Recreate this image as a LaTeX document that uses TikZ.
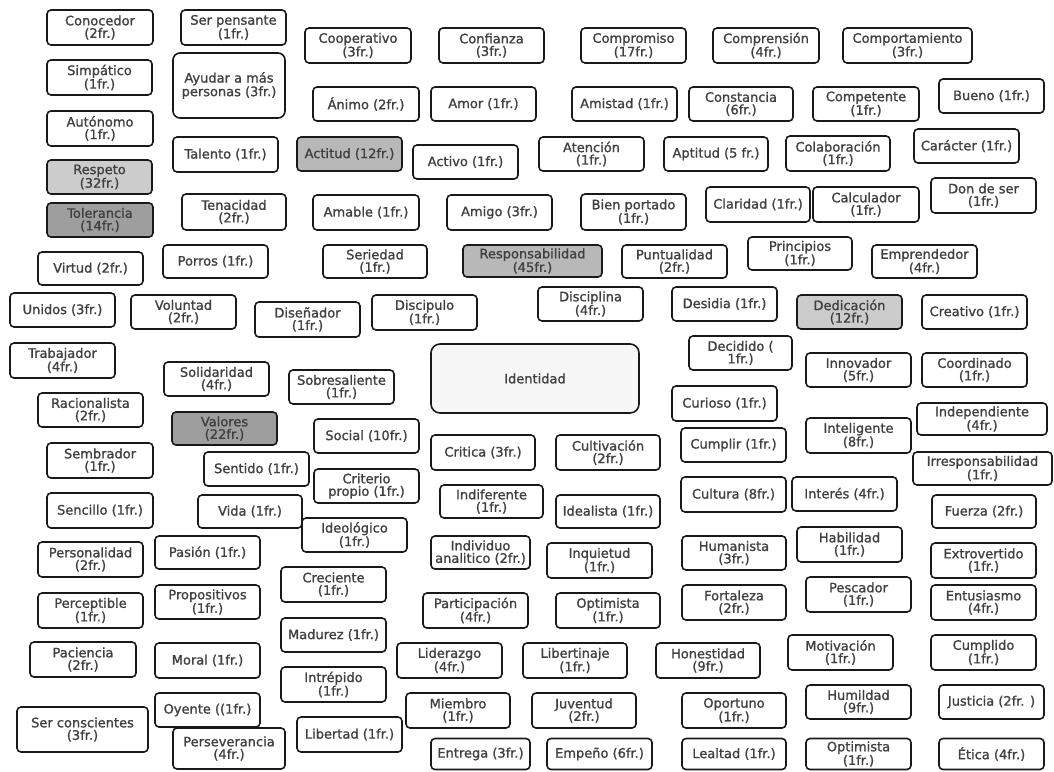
\documentclass[tikz,border=0pt]{standalone}
\usepackage{fontspec}
\setmainfont{DejaVu Sans}[BoldFont={DejaVu Sans}, BoldFeatures={FakeBold=1.2}]
\usepackage{tikz}
\usetikzlibrary{positioning}
\usepackage{xcolor}

\begin{document}
\begin{tikzpicture}[
  x=1pt, y=-1pt,
  box/.style={draw=black!90, line width=1.6pt, rounded corners=4pt, align=center, inner sep=1pt,
    fill=white, text=black!75, font=\fontsize{13}{12.5}\selectfont\bfseries},
  sz/.style 2 args={minimum width=#1pt, minimum height=#2pt},
  hi/.style={box, fill=black!20},
  mid/.style={box, fill=black!28},
  dark/.style={box, fill=black!38},
]
\useasboundingbox[fill=white] (0,0) rectangle (1054,771);
% fila 1
\node[box, sz={106}{35}] (conocedor) at (100,27.5) {Conocedor\\(2fr.)};
\node[box, sz={105}{35}] (serpensante) at (233.5,27.5) {Ser pensante\\(1fr.)};
\node[box, sz={106}{35}] (cooperativo) at (358,45.5) {Cooperativo\\(3fr.)};
\node[box, sz={105}{35}] (confianza) at (491.5,45.5) {Confianza\\(3fr.)};
\node[box, sz={105}{35}] (compromiso) at (633.5,45.5) {Compromiso\\(17fr.)};
\node[box, sz={106}{35}] (comprension) at (766,45.5) {Comprensión\\(4fr.)};
\node[box, sz={129}{35}] (comportamiento) at (907.5,45.5) {Comportamiento\\(3fr.)};
% fila 2
\node[box, sz={105}{35}] (simpatico) at (99.5,77.5) {Simpático\\(1fr.)};
\node[box, sz={112}{65}, rounded corners=7pt] (ayudar) at (229,85.5) {Ayudar a más\\personas (3fr.)};
\node[box, sz={106}{34}] (animo) at (366,104) {Ánimo (2fr.)};
\node[box, sz={105}{34}] (amor) at (483.5,104) {Amor (1fr.)};
\node[box, sz={105}{34}] (amistad) at (624.5,104) {Amistad (1fr.)};
\node[box, sz={104}{34}] (constancia) at (741,104) {Constancia\\(6fr.)};
\node[box, sz={106}{34}] (competente) at (866,104) {Competente\\(1fr.)};
\node[box, sz={105}{34}] (bueno) at (991.5,96) {Bueno (1fr.)};
% fila 3
\node[box, sz={106}{35}] (autonomo) at (100,128.5) {Autónomo\\(1fr.)};
\node[box, sz={105}{35}] (talento) at (225.5,154.5) {Talento (1fr.)};
\node[mid, sz={105}{34}] (actitud) at (349.5,154) {Actitud (12fr.)};
\node[box, sz={105}{34}] (activo) at (465.5,162) {Activo (1fr.)};
\node[box, sz={105}{34}] (atencion) at (591.5,154) {Atención\\(1fr.)};
\node[box, sz={104}{34}] (aptitud) at (716,154) {Aptitud (5 fr.)};
\node[box, sz={104}{35}] (colaboracion) at (838,153.5) {Colaboración\\(1fr.)};
\node[box, sz={105}{34}] (caracter) at (966.5,146) {Carácter (1fr.)};
% fila 4
\node[hi, sz={105}{34}] (respeto) at (99.5,177) {Respeto\\(32fr.)};
\node[dark, sz={106}{34}] (tolerancia) at (100,220) {Tolerancia\\(14fr.)};
\node[box, sz={104}{36}] (tenacidad) at (234,212) {Tenacidad\\(2fr.)};
\node[box, sz={106}{35}] (amable) at (366,212.5) {Amable (1fr.)};
\node[box, sz={105}{35}] (amigo) at (499.5,212.5) {Amigo (3fr.)};
\node[box, sz={105}{36}] (bienportado) at (633.5,212) {Bien portado\\(1fr.)};
\node[box, sz={104}{35}] (claridad) at (758,204.5) {Claridad (1fr.)};
\node[box, sz={106}{35}] (calculador) at (866,204.5) {Calculador\\(1fr.)};
\node[box, sz={105}{35}] (dondeser) at (983.5,195.5) {Don de ser\\(1fr.)};
% fila 5
\node[box, sz={105}{33}] (virtud) at (90.5,268.5) {Virtud (2fr.)};
\node[box, sz={105}{33}] (porros) at (215.5,261.5) {Porros (1fr.)};
\node[box, sz={104}{33}] (seriedad) at (375,261.5) {Seriedad\\(1fr.)};
\node[mid, sz={139}{32}] (responsabilidad) at (532.5,261) {Responsabilidad\\(45fr.)};
\node[box, sz={105}{33}] (puntualidad) at (674.5,261.5) {Puntualidad\\(2fr.)};
\node[box, sz={104}{33}] (principios) at (800,253.5) {Principios\\(1fr.)};
\node[box, sz={105}{33}] (emprendedor) at (924.5,261.5) {Emprendedor\\(4fr.)};
% fila 6
\node[box, sz={105}{34}] (unidos) at (62.5,310) {Unidos (3fr.)};
\node[box, sz={105}{34}] (voluntad) at (183.5,312) {Voluntad\\(2fr.)};
\node[box, sz={105}{35}] (disenador) at (307.5,319.5) {Diseñador\\(1fr.)};
\node[box, sz={105}{35}] (discipulo) at (424.5,312.5) {Discipulo\\(1fr.)};
\node[box, sz={105}{34}] (disciplina) at (590.5,304) {Disciplina\\(4fr.)};
\node[box, sz={105}{34}] (desidia) at (724.5,304) {Desidia (1fr.)};
\node[hi, sz={105}{34}] (dedicacion) at (849.5,312) {Dedicación\\(12fr.)};
\node[box, sz={105}{34}] (creativo) at (974.5,312) {Creativo (1fr.)};
% fila 7
\node[box, sz={105}{35}] (trabajador) at (62.5,360.5) {Trabajador\\(4fr.)};
\node[box, sz={105}{34}] (solidaridad) at (216.5,379) {Solidaridad\\(4fr.)};
\node[box, sz={105}{34}] (sobresaliente) at (341.5,387) {Sobresaliente\\(1fr.)};
\node[box, sz={208}{69}, fill=black!3, rounded corners=9pt] (identidad) at (535,378.5) {Identidad};
\node[box, sz={103}{34}] (decidido) at (740.5,353) {Decidido (\\1fr.)};
\node[box, sz={105}{34}] (innovador) at (858.5,370) {Innovador\\(5fr.)};
\node[box, sz={105}{34}] (coordinado) at (974.5,370) {Coordinado\\(1fr.)};
% fila 8
\node[box, sz={105}{34}] (racionalista) at (90.5,410) {Racionalista\\(2fr.)};
\node[dark, sz={105}{33}] (valores) at (224.5,428.5) {Valores\\(22fr.)};
\node[box, sz={105}{35}] (curioso) at (724.5,403.5) {Curioso (1fr.)};
\node[box, sz={130}{32}] (independiente) at (982,419) {Independiente\\(4fr.)};
% fila 9
\node[box, sz={106}{35}] (sembrador) at (100,460.5) {Sembrador\\(1fr.)};
\node[box, sz={105}{34}] (sentido) at (256.5,469) {Sentido (1fr.)};
\node[box, sz={105}{34}] (social) at (366.5,436) {Social (10fr.)};
\node[box, sz={104}{35}] (critica) at (483,452.5) {Critica (3fr.)};
\node[box, sz={104}{35}] (cultivacion) at (608,452.5) {Cultivación\\(2fr.)};
\node[box, sz={105}{34}] (cumplir) at (733.5,445) {Cumplir (1fr.)};
\node[box, sz={105}{35}] (inteligente) at (858.5,435.5) {Inteligente\\(8fr.)};
\node[box, sz={139}{33}] (irresponsabilidad) at (982.5,468.5) {Irresponsabilidad\\(1fr.)};
% fila 10
\node[box, sz={105}{34}] (criterio) at (366.5,486) {Criterio\\propio (1fr.)};
\node[box, sz={103}{33}] (indiferente) at (491.5,501.5) {Indiferente\\(1fr.)};
\node[box, sz={104}{33}] (idealista) at (608,511.5) {Idealista (1fr.)};
\node[box, sz={105}{35}] (cultura) at (733.5,494.5) {Cultura (8fr.)};
\node[box, sz={105}{34}] (interes) at (844.5,494) {Interés (4fr.)};
\node[box, sz={106}{35}] (sencillo) at (100,510.5) {Sencillo (1fr.)};
\node[box, sz={104}{33}] (vida) at (250,511.5) {Vida (1fr.)};
\node[box, sz={104}{33}] (fuerza) at (984,511.5) {Fuerza (2fr.)};
% fila 11
\node[box, sz={105}{34}] (ideologico) at (354.5,535) {Ideológico\\(1fr.)};
\node[box, sz={105}{35}] (personalidad) at (90.5,559.5) {Personalidad\\(2fr.)};
\node[box, sz={105}{33}] (pasion) at (207.5,552.5) {Pasión (1fr.)};
\node[box, sz={99}{33}] (individuo) at (480.5,552.5) {Individuo\\analitico (2fr.)};
\node[box, sz={105}{35}] (inquietud) at (599.5,560.5) {Inquietud\\(1fr.)};
\node[box, sz={104}{34}] (humanista) at (734,553) {Humanista\\(3fr.)};
\node[box, sz={105}{35}] (habilidad) at (849.5,544.5) {Habilidad\\(1fr.)};
\node[box, sz={105}{35}] (extrovertido) at (983.5,560.5) {Extrovertido\\(1fr.)};
% fila 12
\node[box, sz={105}{35}] (perceptible) at (90.5,610.5) {Perceptible\\(1fr.)};
\node[box, sz={105}{34}] (propositivos) at (207.5,602) {Propositivos\\(1fr.)};
\node[box, sz={105}{35}] (creciente) at (333.5,584.5) {Creciente\\(1fr.)};
\node[box, sz={105}{35}] (participacion) at (475.5,610.5) {Participación\\(4fr.)};
\node[box, sz={104}{35}] (optimistaA) at (608,610.5) {Optimista\\(1fr.)};
\node[box, sz={104}{35}] (fortaleza) at (734,602.5) {Fortaleza\\(2fr.)};
\node[box, sz={105}{35}] (pescador) at (858.5,594.5) {Pescador\\(1fr.)};
\node[box, sz={105}{35}] (entusiasmo) at (983.5,602.5) {Entusiasmo\\(4fr.)};
% fila 13
\node[box, sz={106}{35}] (paciencia) at (83,659.5) {Paciencia\\(2fr.)};
\node[box, sz={105}{35}] (moral) at (207.5,660.5) {Moral (1fr.)};
\node[box, sz={105}{34}] (madurez) at (333.5,635) {Madurez (1fr.)};
\node[box, sz={105}{35}] (liderazgo) at (449.5,660.5) {Liderazgo\\(4fr.)};
\node[box, sz={104}{35}] (libertinaje) at (575,660.5) {Libertinaje\\(1fr.)};
\node[box, sz={104}{35}] (honestidad) at (708,660.5) {Honestidad\\(9fr.)};
\node[box, sz={105}{35}] (motivacion) at (840.5,652.5) {Motivación\\(1fr.)};
\node[box, sz={105}{35}] (cumplido) at (983.5,652.5) {Cumplido\\(1fr.)};
% fila 14
\node[box, sz={105}{35}] (intrepido) at (333.5,684.5) {Intrépido\\(1fr.)};
\node[box, sz={105}{34}] (oyente) at (207.5,710) {Oyente ((1fr.)};
\node[box, sz={131}{45}] (serconscientes) at (82.5,729.5) {Ser conscientes\\(3fr.)};
\node[box, sz={104}{35}] (miembro) at (458,710.5) {Miembro\\(1fr.)};
\node[box, sz={104}{35}] (juventud) at (584,710.5) {Juventud\\(2fr.)};
\node[box, sz={104}{35}] (oportuno) at (734,710.5) {Oportuno\\(1fr.)};
\node[box, sz={105}{34}] (humildad) at (858.5,702) {Humildad\\(9fr.)};
\node[box, sz={105}{34}] (justicia) at (991.5,702) {Justicia (2fr. )};
% fila 15
\node[box, sz={112}{41}] (perseverancia) at (229,748.5) {Perseverancia\\(4fr.)};
\node[box, sz={105}{35}] (libertad) at (349.5,734.5) {Libertad (1fr.)};
\node[box, sz={99}{31}] (entrega) at (480.5,754) {Entrega (3fr.)};
\node[box, sz={105}{31}] (empeno) at (599.5,754) {Empeño (6fr.)};
\node[box, sz={104}{31}] (lealtad) at (734,754) {Lealtad (1fr.)};
\node[box, sz={105}{31}] (optimistaB) at (858.5,754) {Optimista\\(1fr.)};
\node[box, sz={105}{31}] (etica) at (991.5,754) {Ética (4fr.)};
\end{tikzpicture}
\end{document}
